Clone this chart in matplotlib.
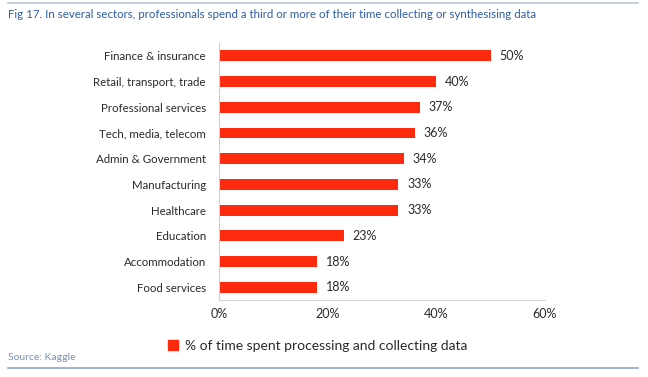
import matplotlib.pyplot as plt
from matplotlib.lines import Line2D
from matplotlib.patches import Patch

sectors = ["Finance & insurance", "Retail, transport, trade", "Professional services",
           "Tech, media, telecom", "Admin & Government", "Manufacturing",
           "Healthcare", "Education", "Accommodation", "Food services"]
shares = [50, 40, 37, 36, 34, 33, 33, 23, 18, 18]
xticks = [0, 20, 40, 60]

RED = "#fe2a0e"
BLUE = "#2f5ca5"
TXT = "#2a2a2a"

plt.rcParams['font.family'] = ['Lato', 'DejaVu Sans']

fig = plt.figure(figsize=(6.48, 3.77), dpi=100)
ax = fig.add_axes([0.338, 0.204, 0.503, 0.682])

y = list(range(len(sectors)))
ax.barh(y, shares, height=0.42, color=RED)
for yi, v in zip(y, shares):
    ax.text(v + 1.6, yi, f"{v}%", va="center", ha="left", fontsize=9, color=TXT)

ax.set_xlim(0, 60)
ax.set_ylim(9.5, -0.5)
ax.set_yticks(y)
ax.set_yticklabels(sectors, fontsize=8.3, color=TXT)
ax.set_xticks(xticks)
ax.set_xticklabels([f"{t}%" for t in xticks], fontsize=9, color=TXT)
ax.tick_params(axis="y", length=0, pad=9.5)
ax.tick_params(axis="x", length=0, pad=6)
for s in ["top", "right"]:
    ax.spines[s].set_visible(False)
ax.spines["left"].set_color("#cfcfcf")
ax.spines["bottom"].set_color("#d8d8d8")
ax.spines["left"].set_linewidth(0.8)
ax.spines["bottom"].set_linewidth(0.8)

fig.legend(handles=[Patch(color=RED, label="% of time spent processing and collecting data")],
           loc="center", bbox_to_anchor=(0.49, 0.082), frameon=False, fontsize=10,
           handlelength=0.75, handleheight=0.75, handletextpad=0.5, labelcolor=TXT)

fig.text(0.012, 0.962, "Fig 17. In several sectors, professionals spend a third or more of their time collecting or synthesising data",
         fontsize=8.3, color=BLUE, va="center", ha="left")
fig.text(0.012, 0.053, "Source: Kaggle", fontsize=7.5, color="#7d8fb8", va="center", ha="left")

fig.add_artist(Line2D([0.012, 0.985], [0.992, 0.992], color="#b9c3d6", lw=1.2))
fig.add_artist(Line2D([0.012, 0.985], [0.024, 0.024], color="#8fa6d0", lw=1.2))

fig.savefig("out.png", dpi=100)
